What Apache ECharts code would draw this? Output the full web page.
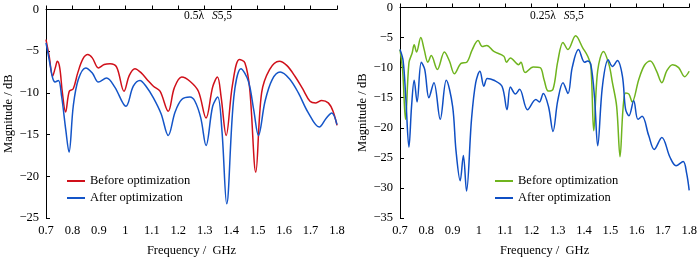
<!DOCTYPE html>
<html>
<head>
<meta charset="utf-8">
<script src="https://cdn.jsdelivr.net/npm/echarts@6/dist/echarts.min.js"></script>
<style>
  html, body { margin: 0; padding: 0; background: #fff; }
  #chart { width: 700px; height: 262px; }
</style>
</head>
<body>
<div id="chart"></div>
<script>
// 左图 0.5λ：优化前（红）
var halfBefore = [
    [0.700, -3.6], [0.712, -5.6], [0.725, -8.0], [0.735, -7.0], [0.743, -6.2], [0.752, -7.0],
    [0.762, -10.0], [0.774, -12.3], [0.788, -9.8], [0.803, -9.5], [0.820, -7.6], [0.840, -5.9],
    [0.858, -5.4], [0.875, -5.8], [0.898, -7.0], [0.920, -6.6], [0.942, -6.5], [0.967, -6.9],
    [0.995, -9.8], [1.015, -7.9], [1.036, -7.1], [1.060, -7.6], [1.085, -8.5], [1.106, -9.2],
    [1.131, -9.8], [1.162, -12.2], [1.185, -9.4], [1.213, -8.1], [1.244, -8.6], [1.276, -9.8],
    [1.305, -13.0], [1.330, -9.3], [1.348, -8.1], [1.362, -10.5], [1.381, -15.1], [1.405, -9.0],
    [1.431, -6.0], [1.452, -6.4], [1.470, -9.5], [1.493, -19.5], [1.515, -10.0], [1.545, -7.2],
    [1.582, -6.2], [1.610, -6.7], [1.641, -8.0], [1.670, -9.5], [1.698, -11.0], [1.720, -11.2],
    [1.742, -10.9], [1.767, -11.2], [1.785, -12.2], [1.800, -13.9]
];
// 左图 0.5λ：优化后（蓝）
var halfAfter = [
    [0.700, -4.0], [0.712, -6.0], [0.725, -8.2], [0.734, -8.7], [0.747, -8.5], [0.759, -10.4],
    [0.775, -14.5], [0.787, -17.1], [0.803, -11.6], [0.822, -8.4], [0.850, -7.0], [0.875, -7.6],
    [0.898, -8.7], [0.929, -8.2], [0.960, -9.3], [1.002, -11.6], [1.030, -9.2], [1.055, -8.5],
    [1.080, -9.3], [1.106, -10.6], [1.135, -12.5], [1.162, -15.1], [1.188, -12.3], [1.213, -10.8],
    [1.244, -10.5], [1.263, -11.0], [1.285, -13.0], [1.305, -16.3], [1.330, -11.6], [1.349, -10.5],
    [1.365, -14.5], [1.383, -23.3], [1.410, -10.5], [1.437, -7.1], [1.465, -8.6], [1.485, -12.0],
    [1.503, -15.1], [1.528, -11.0], [1.555, -8.4], [1.585, -7.5], [1.620, -8.3], [1.654, -10.0],
    [1.690, -12.3], [1.733, -14.1], [1.760, -13.0], [1.780, -12.4], [1.800, -13.8]
];
// 右图 0.25λ：优化前（绿）
var quarterBefore = [
    [0.700, -7.0], [0.710, -10.5], [0.721, -18.6], [0.734, -9.2], [0.746, -7.6], [0.754, -6.2],
    [0.763, -7.4], [0.779, -5.0], [0.792, -7.0], [0.806, -9.1], [0.819, -8.0], [0.842, -10.3],
    [0.869, -7.4], [0.888, -8.9], [0.907, -11.0], [0.932, -9.3], [0.954, -9.1], [0.975, -7.0],
    [0.997, -5.5], [1.013, -6.5], [1.030, -6.3], [1.057, -7.3], [1.095, -8.1], [1.105, -9.1],
    [1.120, -8.4], [1.151, -9.5], [1.160, -9.1], [1.176, -10.8], [1.207, -9.9], [1.233, -10.0],
    [1.248, -12.0], [1.264, -13.9], [1.282, -13.6], [1.300, -9.0], [1.320, -5.8], [1.339, -7.0],
    [1.368, -4.7], [1.395, -6.7], [1.414, -8.1], [1.426, -9.8], [1.437, -20.5], [1.452, -10.5],
    [1.474, -7.3], [1.495, -9.5], [1.508, -12.5], [1.524, -16.4], [1.537, -24.8], [1.548, -17.0],
    [1.558, -14.2], [1.571, -14.4], [1.583, -15.7], [1.608, -12.0], [1.630, -9.6], [1.652, -8.9],
    [1.675, -10.5], [1.696, -12.5], [1.715, -10.5], [1.737, -9.5], [1.760, -10.0], [1.783, -11.5],
    [1.800, -10.6]
];
// 右图 0.25λ：优化后（蓝）
var quarterAfter = [
    [0.700, -7.0], [0.712, -8.9], [0.722, -15.0], [0.734, -23.2], [0.744, -16.4], [0.754, -12.1],
    [0.765, -15.7], [0.781, -9.1], [0.794, -10.3], [0.810, -15.0], [0.829, -12.5], [0.853, -18.6],
    [0.876, -12.1], [0.900, -16.4], [0.913, -23.8], [0.929, -28.8], [0.941, -24.6], [0.953, -30.5],
    [0.972, -18.6], [0.988, -12.5], [1.004, -10.6], [1.019, -13.1], [1.032, -11.8], [1.057, -12.1],
    [1.088, -13.1], [1.107, -17.0], [1.120, -13.2], [1.139, -14.4], [1.155, -13.6], [1.185, -17.0],
    [1.217, -15.3], [1.230, -15.7], [1.245, -14.3], [1.265, -16.5], [1.282, -20.6], [1.300, -15.5],
    [1.320, -12.5], [1.339, -14.3], [1.355, -10.0], [1.379, -7.0], [1.402, -9.1], [1.414, -8.9],
    [1.426, -9.5], [1.440, -15.0], [1.452, -23.0], [1.470, -13.1], [1.492, -8.7], [1.508, -9.8],
    [1.527, -8.8], [1.546, -11.4], [1.558, -16.9], [1.571, -18.0], [1.589, -15.5], [1.605, -18.6],
    [1.621, -18.1], [1.646, -21.3], [1.667, -23.6], [1.696, -21.6], [1.727, -24.9], [1.750, -26.3],
    [1.777, -25.6], [1.790, -27.5], [1.800, -30.4]
];

var legendNames = ['Before optimization', 'After optimization'];
var serifFont = '"Liberation Serif", "DejaVu Serif", serif';

var myChart = echarts.init(document.getElementById('chart'));

/**
 * [坐标轴公共样式]
 */
function axisStyle() {
    return {
        axisLine: { lineStyle: { color: '#000', width: 1 } },
        axisTick: { inside: true, length: 4, lineStyle: { color: '#000' } },
        splitLine: { show: false },
        axisLabel: { color: '#000', fontFamily: serifFont, fontSize: 12.5 },
        nameTextStyle: { color: '#000', fontFamily: serifFont, fontSize: 12.5 }
    };
}

function xAxis(gridIndex) {
    let a = axisStyle();
    a.type = 'value';
    a.gridIndex = gridIndex;
    a.min = 0.7;
    a.max = 1.8;
    a.interval = 0.1;
    a.name = 'Frequency /  GHz';
    a.nameLocation = 'middle';
    a.nameGap = 26;
    a.axisLabel.margin = 6;
    a.axisLabel.formatter = function (v) { return String(+v.toFixed(1)); };
    return a;
}

function yAxis(gridIndex, min) {
    let a = axisStyle();
    a.type = 'value';
    a.gridIndex = gridIndex;
    a.min = min;
    a.max = 0;
    a.interval = 5;
    a.name = 'Magnitude / dB';
    a.nameLocation = 'middle';
    a.nameGap = 31;
    a.axisLabel.margin = 7;
    a.axisLabel.formatter = function (v) { return String(v).replace('-', '\u2212'); };
    return a;
}

function line(name, data, color, idx) {
    return {
        name: name,
        type: 'line',
        xAxisIndex: idx,
        yAxisIndex: idx,
        data: data,
        smooth: 0.35,
        symbol: 'none',
        lineStyle: { color: color, width: 1.5 },
        itemStyle: { color: color },
        z: name.indexOf('After') === 0 ? 3 : 2
    };
}

function legend(left, names) {
    return {
        left: left,
        top: 174,
        padding: 0,
        orient: 'vertical',
        icon: 'rect',
        itemWidth: 18,
        itemHeight: 2,
        itemGap: 3,
        itemTextGap: 8,
        data: names,
        formatter: function (n) { return n.trim(); },
        textStyle: { color: '#000', fontFamily: serifFont, fontSize: 12.5, lineHeight: 14 }
    };
}

function title(left, lambda) {
    return {
        left: left,
        top: 7,
        padding: 0,
        text: '{a|' + lambda + '} {b|S}{a|5,5}',
        textStyle: {
            fontWeight: 'normal',
            rich: {
                a: { fontFamily: serifFont, fontSize: 11.5, color: '#000', fontWeight: 'normal' },
                b: { fontFamily: serifFont, fontSize: 11.5, color: '#000', fontWeight: 'normal', fontStyle: 'italic', padding: [0, 0, 0, 3] }
            }
        }
    };
}

var option = {
    backgroundColor: '#fff',
    animation: false,
    title: [title(184, '0.5λ'), title(530, '0.25λ')],
    legend: [
        legend(67, legendNames),
        legend(495, legendNames.map(function (n) { return n + ' '; }))
    ],
    grid: [
        { left: 46, right: 363, top: 9.5, bottom: 42.5 },
        { left: 400, right: 7, top: 7.5, bottom: 42.5 }
    ],
    xAxis: [xAxis(0), xAxis(1)],
    yAxis: [yAxis(0, -25), yAxis(1, -35)],
    series: [
        line(legendNames[0], halfBefore, '#d0101a', 0),
        line(legendNames[1], halfAfter, '#1455c8', 0),
        line(legendNames[0] + ' ', quarterBefore, '#6fb41e', 1),
        line(legendNames[1] + ' ', quarterAfter, '#0f4fc4', 1)
    ]
};

myChart.setOption(option, true);
</script>
</body>
</html>
